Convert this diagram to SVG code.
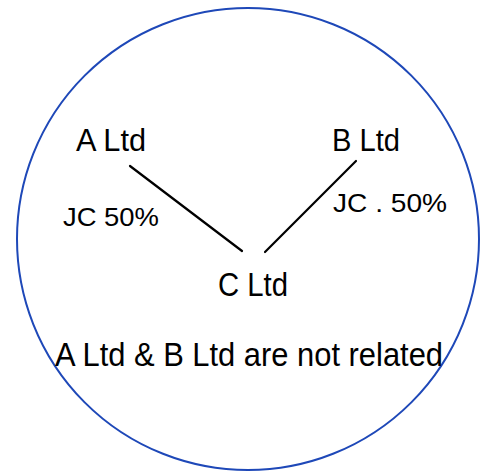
<svg xmlns="http://www.w3.org/2000/svg" width="491" height="473" viewBox="0 0 491 473">
<style>
.t{font-family:"Liberation Sans Narrow","Liberation Sans",sans-serif;fill:#000;}
.c{stroke:#000;stroke-width:2.2;fill:none;stroke-linecap:round}
</style>
<rect width="491" height="473" fill="#fff"/>
<ellipse cx="248" cy="239" rx="231" ry="231" fill="none" stroke="#1e48b8" stroke-width="2"/>
<g id="connectors">
<line class="c" x1="130" y1="166" x2="242" y2="251"/>
<line class="c" x1="356" y1="161" x2="265" y2="252"/>
</g>
<g id="a-ltd"><text class="t" x="76" y="151" font-size="32" textLength="70" lengthAdjust="spacingAndGlyphs">A Ltd</text></g>
<g id="b-ltd"><text class="t" x="332" y="151" font-size="32" textLength="68" lengthAdjust="spacingAndGlyphs">B Ltd</text></g>
<g id="c-ltd"><text class="t" x="218" y="296" font-size="34" textLength="70" lengthAdjust="spacingAndGlyphs">C Ltd</text></g>
<g id="jc-a"><text class="t" x="63" y="226" font-size="26" textLength="96" lengthAdjust="spacingAndGlyphs">JC 50%</text></g>
<g id="jc-b"><text class="t" x="333" y="212" font-size="26" textLength="114" lengthAdjust="spacingAndGlyphs">JC . 50%</text></g>
<g id="note"><text class="t" x="55" y="366" font-size="34" textLength="388" lengthAdjust="spacingAndGlyphs">A Ltd &amp; B Ltd are not related</text></g>
</svg>
